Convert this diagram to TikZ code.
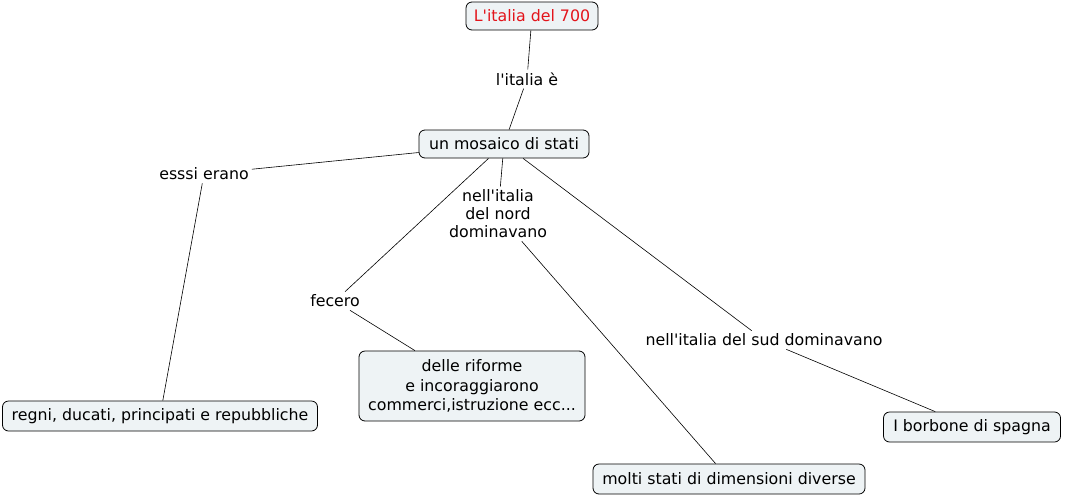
\documentclass[tikz,border=0pt]{standalone}
\usepackage{fontspec}
\newfontfamily\vf{DejaVu Sans}
\definecolor{boxfill}{HTML}{EEF3F5}
\definecolor{titlered}{HTML}{E3141B}
\begin{document}
\begin{tikzpicture}[x=1pt,y=-1pt,
  concept/.style={draw=black, fill=boxfill, rounded corners=6pt, line width=0.8pt, inner sep=0pt, align=center, font=\vf\fontsize{15.8}{19.5}\selectfont},
  linklabel/.style={inner sep=3pt, align=center, font=\vf\fontsize{15.8}{18}\selectfont},
  conn/.style={draw=black, line width=0.6pt}]
\useasboundingbox (0,0) rectangle (1065,496);
\node[concept, minimum width=132pt, minimum height=28pt, text=titlered] (title) at (532,16) {L'italia del 700};
\node[concept, minimum width=170pt, minimum height=28pt] (mosaic) at (504,144) {un mosaico di stati};
\node[concept, minimum width=315pt, minimum height=30pt] (regni) at (160,416) {regni, ducati, principati e repubbliche};
\node[concept, minimum width=226pt, minimum height=70pt] (riforme) at (472,386) {delle riforme\\e incoraggiarono\\commerci,istruzione ecc...};
\node[concept, minimum width=177pt, minimum height=30pt] (borbone) at (972,427) {I borbone di spagna};
\node[concept, minimum width=272pt, minimum height=30pt] (molti) at (729,479) {molti stati di dimensioni diverse};

\node[linklabel] (lè) at (527,79) {l'italia è};
\node[linklabel] (essi) at (204,174) {esssi erano};
\node[linklabel] (nord) at (498,214) {nell'italia\\del nord\\dominavano};
\node[linklabel] (fecero) at (335,301) {fecero};
\node[linklabel] (sud) at (764,340) {nell'italia del sud dominavano};

\draw[conn] (title) -- (lè);
\draw[conn] (lè) -- (mosaic);
\draw[conn] (mosaic) -- (essi);
\draw[conn] (essi) -- (regni);
\draw[conn] (mosaic) -- (nord);
\draw[conn] (nord) -- (molti);
\draw[conn] (mosaic) -- (fecero);
\draw[conn] (fecero) -- (riforme);
\draw[conn] (mosaic) -- (sud);
\draw[conn] (sud) -- (borbone);
\end{tikzpicture}
\end{document}
